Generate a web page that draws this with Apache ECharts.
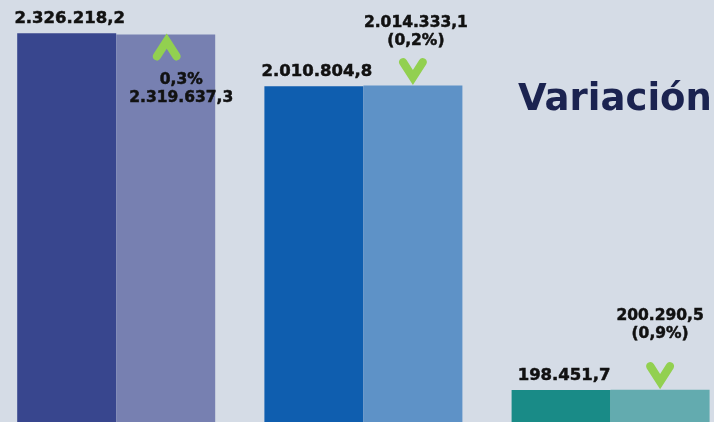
<!DOCTYPE html>
<html>
<head>
<meta charset="utf-8">
<script src="https://cdn.jsdelivr.net/npm/echarts@6/dist/echarts.min.js"></script>
<style>
html,body{margin:0;padding:0;background:#d5dce6;}
#chart{width:714px;height:422px;}
</style>
</head>
<body>
<div id="chart"></div>
<script>
// ---- data ----
const categories = ['Grupo 1', 'Grupo 2', 'Grupo 3'];
const actual = [2326218.2, 2010804.8, 198451.7];
const anterior = [2319637.3, 2014333.1, 200290.5];
const titleText = 'Variación';

// ---- styles ----
const colorsActual = ['#38468e', '#0f5eaf', '#198b87'];
const colorsAnterior = ['#7780b1', '#5e92c7', '#63abaf'];
const rightLabelLayout = [
  { position: 'insideTop', distance: 37, offset: [15.5, 0] },
  { position: 'top', distance: 36, offset: [3, 0] },
  { position: 'top', distance: 47, offset: [0, 0] }
];
const FONT = 'DejaVu Sans';
const GREEN = '#92d050';
const TEXT = '#111111';
const downPath = 'path://M1.5,22 A15,15 0 0 1 27,6 L50,43 L73,6 A15,15 0 0 1 98.5,22 L50,100 Z';
const upPath = 'path://M1.5,78 A15,15 0 0 0 27,94 L50,57 L73,94 A15,15 0 0 0 98.5,78 L50,0 Z';

function fmt(v) {
  const parts = v.toFixed(1).split('.');
  return parts[0].replace(/\B(?=(\d{3})+(?!\d))/g, '.') + ',' + parts[1];
}
function variation(i) { return (actual[i] / anterior[i] - 1) * 100; }
function fmtPct(p) {
  const s = Math.abs(p).toFixed(1).replace('.', ',') + '%';
  return p < 0 ? '(' + s + ')' : s;
}

const chart = echarts.init(document.getElementById('chart'), null, { renderer: 'canvas' });
chart.setOption({
  backgroundColor: '#d5dce6',
  animation: false,
  grid: { left: -7.4, top: 0, width: 741.6, height: 423.3, containLabel: false, outerBoundsMode: 'none' },
  xAxis: { type: 'category', data: categories, show: false },
  yAxis: { type: 'value', min: 0, max: 2525000, show: false },
  graphic: [{
    type: 'text', left: 518, top: 82,
    style: { text: titleText, font: 'bold 37px "' + FONT + '"', fill: '#1b2350' }
  }],
  series: [
    {
      name: 'Actual', type: 'bar', barWidth: 99, barGap: '0%',
      data: actual.map((v, i) => ({ value: v, itemStyle: { color: colorsActual[i] } })),
      label: {
        show: true, position: 'top', distance: 6, offset: [3, 0],
        fontFamily: FONT, fontWeight: 'bold', fontSize: 16.5, color: TEXT,
        textBorderColor: TEXT, textBorderWidth: 0.5,
        formatter: p => fmt(p.value)
      }
    },
    {
      name: 'Anterior', type: 'bar', barWidth: 99, barGap: '0%',
      data: anterior.map((v, i) => ({
        value: v, itemStyle: { color: colorsAnterior[i] }, label: rightLabelLayout[i]
      })),
      label: {
        show: true, fontFamily: FONT, fontWeight: 'bold', fontSize: 15.5, lineHeight: 18,
        color: TEXT, align: 'center', textBorderColor: TEXT, textBorderWidth: 0.5,
        formatter: p => {
          const pct = variation(p.dataIndex);
          return pct >= 0 ? fmtPct(pct) + '\n' + fmt(p.value) : fmt(p.value) + '\n' + fmtPct(pct);
        }
      }
    },
    {
      name: 'Flecha', type: 'scatter', silent: true,
      data: anterior.map((v, i) => {
        const up = variation(i) >= 0;
        return {
          value: [i, v],
          symbol: up ? upPath : downPath,
          symbolOffset: up ? [50.5, 12.5] : [49.5, -14]
        };
      }),
      symbolSize: [28, 27],
      itemStyle: { color: GREEN, opacity: 1 },
      z: 5
    }
  ]
});
</script>
</body>
</html>
